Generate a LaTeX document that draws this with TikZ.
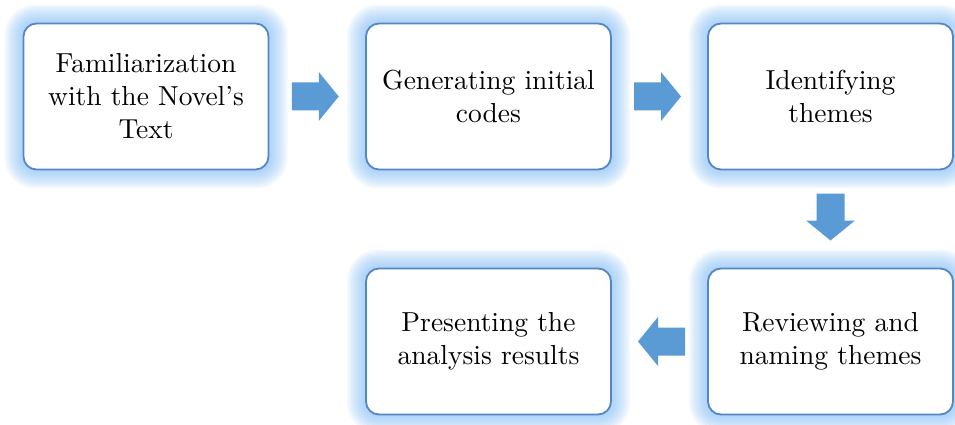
\documentclass[tikz,border=0pt]{standalone}
\usepackage{fontspec}
\setmainfont{lmroman10-regular.otf}
\usetikzlibrary{calc}
\definecolor{edgeblue}{RGB}{84,134,196}
\definecolor{arrowblue}{RGB}{91,155,213}
\definecolor{glowblue}{RGB}{125,188,250}
\pgfdeclarelayer{bglayer}
\pgfdeclarelayer{glowlayer}
\pgfsetlayers{bglayer,glowlayer,main}
\tikzset{
  stepbox/.style={draw=edgeblue, line width=1.8pt, fill=white, rounded corners=13pt,
    minimum width=245pt, minimum height=146pt, align=center, inner sep=0pt,
    font=\fontsize{27.5}{33}\selectfont},
  blockarrow/.pic={
    \fill[white] (-26.5,-26) rectangle (22.5,26);
    \fill[arrowblue] (-25.5,-14) -- (1.5,-14) -- (1.5,-24.5) -- (21.5,0)
      -- (1.5,24.5) -- (1.5,14) -- (-25.5,14) -- cycle;
  }
}
\begin{document}
\begin{tikzpicture}[x=1pt,y=-1pt]
\useasboundingbox (0,0) rectangle (955,425);
\begin{pgfonlayer}{bglayer}
  \fill[white] (0,0) rectangle (955,425);
\end{pgfonlayer}
\node[stepbox] (A) at (146,96.5) {Familiarization\\with the Novel's\\Text};
\node[stepbox] (B) at (488.5,96.5) {Generating initial\\codes};
\node[stepbox] (C) at (830.5,96.5) {Identifying\\themes};
\node[stepbox] (D) at (488.5,341.5) {Presenting the\\analysis results};
\node[stepbox] (E) at (830.5,341.5) {Reviewing and\\naming themes};
\begin{pgfonlayer}{glowlayer}
  \foreach \n in {A,B,C,D,E}{
    \foreach \k in {1,...,9}{
      \pgfmathsetmacro{\rc}{13+2*\k}
      \fill[glowblue, opacity=0.09, rounded corners=\rc pt]
        ($(\n.north west)+(-2*\k,-2*\k)$) rectangle ($(\n.south east)+(2*\k,2*\k)$);
    }
  }
\end{pgfonlayer}
\coordinate (m1) at ($(A.east)!0.5!(B.west)$);
\coordinate (m2) at ($(B.east)!0.5!(C.west)$);
\coordinate (m3) at ($(C.south)!0.5!(E.north)$);
\coordinate (m4) at ($(E.west)!0.5!(D.east)$);
\pic at (m1) {blockarrow};
\pic at (m2) {blockarrow};
\pic[rotate=-90] at (m3) {blockarrow};
\pic[rotate=180] at (m4) {blockarrow};
\end{tikzpicture}
\end{document}
